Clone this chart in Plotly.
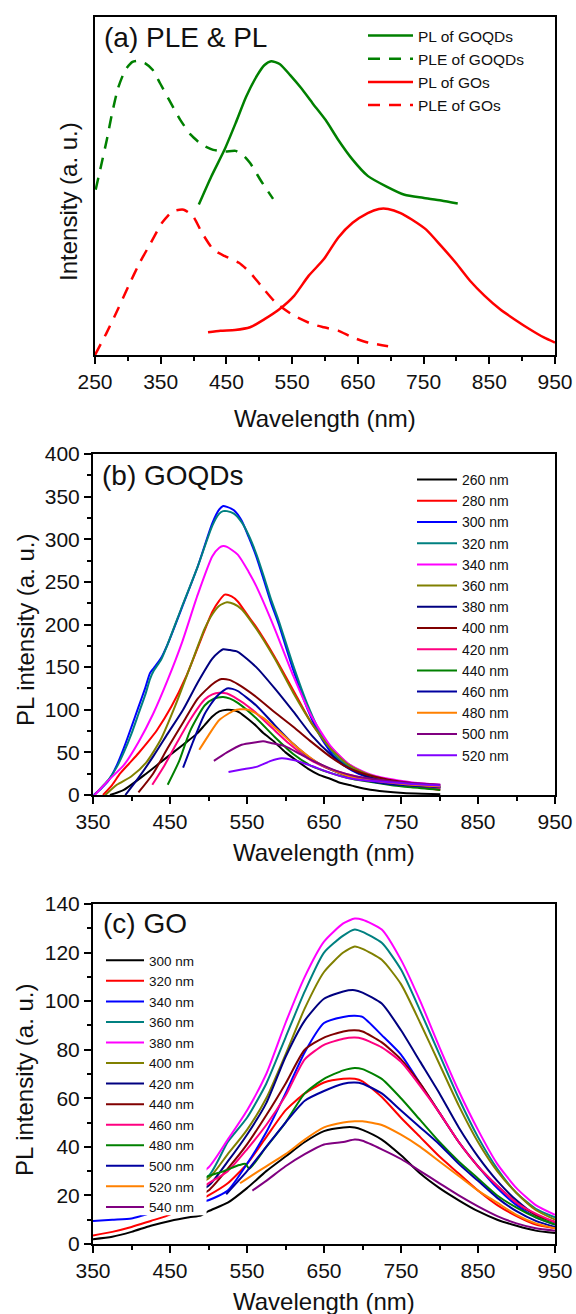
import plotly.graph_objects as go

W, H = 576, 1314

# ---------------- Panel (a) data (arbitrary units) ----------------
a_pl_goqd_x = [408, 427, 447, 464, 480, 497, 508, 518, 531, 547, 564, 581, 601, 620, 642, 665, 693, 721, 749, 777, 802]
a_pl_goqd_y = [0.445, 0.528, 0.607, 0.686, 0.764, 0.828, 0.858, 0.869, 0.861, 0.828, 0.789, 0.745, 0.695, 0.637, 0.578, 0.530, 0.499, 0.474, 0.465, 0.457, 0.448]

a_ple_goqd_x = [251, 259, 268, 276, 285, 296, 307, 315, 327, 338, 349, 363, 380, 396, 413, 430, 447, 464, 475, 486, 503, 521]
a_ple_goqd_y = [0.489, 0.558, 0.637, 0.715, 0.789, 0.843, 0.867, 0.870, 0.862, 0.843, 0.804, 0.754, 0.695, 0.651, 0.622, 0.607, 0.602, 0.604, 0.592, 0.568, 0.514, 0.462]

a_pl_go_x = [422, 441, 463, 486, 508, 531, 553, 575, 598, 620, 642, 665, 682, 696, 715, 732, 754, 777, 799, 821, 843, 866, 888, 911, 933, 950]
a_pl_go_y = [0.067, 0.072, 0.074, 0.082, 0.106, 0.136, 0.175, 0.234, 0.283, 0.347, 0.391, 0.420, 0.432, 0.432, 0.420, 0.401, 0.371, 0.322, 0.273, 0.219, 0.175, 0.136, 0.106, 0.077, 0.052, 0.037]

a_ple_go_x = [250, 268, 285, 301, 318, 335, 352, 368, 385, 399, 413, 430, 447, 469, 486, 503, 525, 553, 581, 598, 620, 642, 665, 696]
a_ple_go_y = [0.0, 0.067, 0.136, 0.204, 0.273, 0.332, 0.391, 0.425, 0.430, 0.411, 0.361, 0.312, 0.293, 0.273, 0.244, 0.204, 0.155, 0.116, 0.091, 0.082, 0.072, 0.052, 0.037, 0.026]

a_names = ["PL of GOQDs", "PLE of GOQDs", "PL of GOs", "PLE of GOs"]
a_ticks = [250, 350, 450, 550, 650, 750, 850, 950]

# ---------------- Panel (b) data: GOQDs ----------------
b_labels = ["260 nm", "280 nm", "300 nm", "320 nm", "340 nm", "360 nm", "380 nm",
            "400 nm", "420 nm", "440 nm", "460 nm", "480 nm", "500 nm", "520 nm"]
b_colors = ["#000000", "#FF0000", "#0000FF", "#008080", "#FF00FF", "#808000", "#000080",
            "#800000", "#FF0080", "#008000", "#0000A0", "#FF8000", "#800080", "#8000FF"]

b260_x = [372, 390, 419, 440, 467, 485, 495, 505, 514, 524, 533, 540, 553, 562, 572, 586, 600, 615, 629, 643, 658, 672, 686, 705, 729, 753, 777, 801]
b260_y = [0, 6, 25, 40, 59, 72, 82, 92, 98, 100, 99.5, 97, 88, 81, 72, 62, 50, 40, 31, 24, 19, 14, 11, 7, 4, 2.3, 1.5, 1]
b280_x = [363, 375, 385, 397, 409, 421, 433, 452, 471, 490, 505, 514, 521, 530, 538, 553, 562, 586, 610, 634, 658, 681, 705, 734, 763, 801]
b280_y = [0, 12, 25, 37, 49, 62, 76, 104, 139, 182, 215, 228, 235, 233, 227, 208, 197, 162, 123, 84, 57, 37, 25, 15.6, 10.6, 5.9]
b300_x = [351, 361, 371, 381, 390, 400, 409, 418, 424, 429, 438, 447, 466, 486, 505, 514, 519, 524, 533, 543, 552, 562, 572, 581, 591, 610, 629, 648, 667, 686, 705, 734, 763, 801]
b300_y = [0, 8, 18, 35, 55, 80, 103, 126, 143, 149, 160, 177, 221, 268, 319, 335, 339, 338, 334, 322, 303, 280, 252, 226, 201, 147, 100, 64.5, 41, 29, 21.5, 15.6, 11.7, 9]
b320_x = [352, 361, 371, 381, 390, 400, 409, 418, 424, 429, 438, 447, 466, 486, 505, 514, 519, 524, 533, 543, 552, 562, 572, 581, 591, 610, 629, 648, 667, 686, 705, 734, 763, 801]
b320_y = [0, 9, 19, 33, 50, 72, 95, 118, 136, 146, 158, 177, 222, 268, 316, 330, 333, 333, 330, 320, 305, 283, 256, 230, 205, 152, 105, 68, 44, 31, 22, 16, 12, 9]
b340_x = [352, 371, 390, 409, 428, 447, 466, 486, 505, 514, 519, 524, 538, 552, 562, 586, 610, 634, 658, 681, 705, 734, 763, 801]
b340_y = [0, 18, 35, 62, 95, 135, 180, 235, 280, 290, 292, 291, 282, 262, 245, 195, 140, 92, 58, 37, 26, 19, 15, 12]
b360_x = [366, 381, 400, 419, 438, 457, 476, 495, 505, 514, 524, 533, 543, 562, 586, 610, 634, 658, 681, 705, 734, 763, 801]
b360_y = [0, 12, 22, 38, 65, 105, 150, 195, 212, 222, 226, 224, 218, 195, 160, 120, 84, 55, 36, 25, 17, 13, 9]
b380_x = [392, 409, 428, 447, 467, 486, 505, 514, 519, 528, 538, 562, 586, 610, 634, 658, 681, 705, 734, 763, 801]
b380_y = [0, 20, 45, 72, 100, 132, 160, 168, 171, 170, 168, 150, 125, 98, 70, 48, 32, 22, 15, 11, 8]
b400_x = [409, 428, 447, 467, 486, 505, 517, 527, 538, 562, 586, 610, 634, 658, 681, 705, 734, 763, 801]
b400_y = [3, 25, 55, 85, 113, 130, 136, 135, 130, 115, 97, 80, 62, 45, 32, 24, 18, 14, 11]
b420_x = [427, 443, 457, 476, 495, 505, 514, 524, 533, 557, 581, 605, 629, 653, 681, 705, 734, 763, 801]
b420_y = [12, 35, 58, 88, 112, 118, 120, 119, 115, 100, 80, 60, 43, 32, 24, 19, 15, 12, 8]
b440_x = [447, 462, 476, 495, 507, 519, 528, 538, 562, 586, 610, 634, 658, 681, 705, 734, 763, 801]
b440_y = [12, 40, 75, 105, 113, 115, 113, 108, 90, 68, 48, 34, 26, 20, 16, 12, 9, 6]
b460_x = [467, 481, 495, 510, 524, 531, 538, 562, 586, 610, 634, 658, 681, 705, 734, 763, 801]
b460_y = [32, 65, 95, 115, 125, 124.5, 122, 105, 82, 60, 42, 30, 22, 17, 13, 11, 9]
b480_x = [488, 500, 514, 533, 541, 552, 572, 595, 619, 643, 667, 691, 720, 753, 801]
b480_y = [53, 70, 88, 99, 100.5, 100, 90, 72, 53, 37, 27, 20, 16, 13, 10]
b500_x = [507, 524, 543, 562, 571, 581, 600, 619, 643, 667, 691, 720, 753, 801]
b500_y = [40, 50, 59, 62, 63, 61, 57, 48, 37, 28, 22, 18, 15, 12]
b520_x = [526, 543, 562, 581, 595, 605, 615, 634, 658, 681, 705, 734, 763, 801]
b520_y = [27, 30, 33, 40, 43, 42, 40, 34, 26, 20, 17, 15, 13, 11]

b_xs = [b260_x, b280_x, b300_x, b320_x, b340_x, b360_x, b380_x, b400_x, b420_x, b440_x, b460_x, b480_x, b500_x, b520_x]
b_ys = [b260_y, b280_y, b300_y, b320_y, b340_y, b360_y, b380_y, b400_y, b420_y, b440_y, b460_y, b480_y, b500_y, b520_y]

# ---------------- Panel (c) data: GO ----------------
c_labels = ["300 nm", "320 nm", "340 nm", "360 nm", "380 nm", "400 nm", "420 nm",
            "440 nm", "460 nm", "480 nm", "500 nm", "520 nm", "540 nm"]
c_colors = ["#000000", "#FF0000", "#0000FF", "#008080", "#FF00FF", "#808000", "#000080",
            "#800000", "#FF0080", "#008000", "#0000A0", "#FF8000", "#800080"]

c300_x = [350, 375, 400, 425, 450, 475, 490, 500, 525, 550, 575, 600, 625, 650, 675, 690, 700, 725, 750, 775, 800, 825, 850, 875, 900, 925, 950]
c300_y = [2, 3, 5, 7.5, 9.5, 11, 11.7, 13.5, 17, 23, 30, 36, 42, 46.5, 48, 48, 47, 43, 36.5, 29, 23, 18, 13.5, 10, 7.5, 5.5, 4.5]
c320_x = [350, 375, 400, 425, 445, 460, 475, 500, 525, 550, 575, 600, 625, 650, 675, 690, 700, 725, 750, 775, 800, 825, 850, 875, 900, 925, 950]
c320_y = [3.5, 5, 7, 9.5, 11.5, 13.5, 16, 20, 25, 33, 44, 55, 62, 66.5, 68, 68, 67, 60.5, 52, 44, 36, 29, 22, 16, 11.5, 8, 6.5]
c340_x = [350, 375, 400, 410, 425, 450, 475, 500, 525, 550, 575, 600, 625, 650, 675, 690, 700, 725, 750, 775, 800, 825, 850, 875, 900, 925, 950]
c340_y = [9.5, 10, 10.5, 11.3, 12.8, 14, 16, 18, 22, 33, 46, 62, 79, 91, 93.5, 94, 93.5, 86, 78, 66, 54, 42, 32, 23, 16, 11, 8]
c360_x = [390, 450, 500, 525, 550, 575, 600, 625, 650, 675, 690, 700, 725, 750, 775, 800, 825, 850, 875, 900, 925, 950]
c360_y = [15, 22, 28, 42, 52, 66, 85, 104, 120, 127, 129.5, 128.5, 124, 113, 96, 78, 60, 44, 31, 21, 14.5, 11]
c380_x = [400, 460, 500, 525, 550, 575, 600, 625, 650, 675, 690, 700, 725, 750, 775, 800, 825, 850, 875, 900, 925, 950]
c380_y = [16, 24, 31.5, 43, 55, 70, 91, 110, 124.5, 132, 134, 133.5, 129.5, 117, 100, 81, 63, 47, 33, 23, 16, 12]
c400_x = [410, 450, 500, 525, 550, 575, 600, 625, 650, 675, 690, 700, 725, 750, 775, 800, 825, 850, 875, 900, 925, 950]
c400_y = [15, 20, 27, 37, 47, 60, 78, 97, 112, 120, 122.5, 121.5, 117, 107, 91, 74, 57, 42, 30, 21, 14, 10]
c420_x = [430, 460, 500, 525, 550, 575, 600, 625, 650, 675, 690, 700, 725, 750, 775, 800, 825, 850, 875, 900, 925, 950]
c420_y = [14, 18, 24, 34, 45, 58, 77, 92, 101, 104, 104.5, 103.5, 99, 88, 75, 62, 48, 36, 26, 18, 12, 9]
c440_x = [450, 475, 500, 525, 550, 575, 600, 625, 650, 675, 690, 700, 725, 750, 775, 800, 825, 850, 875, 900, 925, 950]
c440_y = [15, 18, 22, 31, 41, 53, 66, 80, 85, 87.5, 88, 87.5, 83, 76, 66, 54, 42, 32, 24, 17, 12, 9]
c460_x = [470, 485, 500, 525, 550, 575, 600, 625, 650, 675, 690, 700, 725, 750, 775, 800, 825, 850, 875, 900, 925, 950]
c460_y = [18, 22, 25, 30, 39, 49, 61, 76, 82, 84.5, 85, 84.5, 81, 75, 65, 54, 42, 32, 24, 17, 12.5, 9]
c480_x = [490, 500, 520, 540, 548, 553, 575, 600, 625, 650, 675, 690, 700, 725, 750, 775, 800, 825, 850, 875, 900, 925, 950]
c480_y = [26, 28, 30, 32.5, 33, 31, 40, 50, 62, 68, 71.5, 72.5, 72, 68, 60, 51, 42, 34, 27, 20, 15, 11, 8]
c500_x = [523, 550, 575, 600, 625, 650, 675, 690, 700, 725, 750, 775, 800, 825, 850, 875, 900, 925, 950]
c500_y = [20.5, 30, 40, 50, 59, 63, 66, 66.5, 66, 62, 55, 48, 41, 33, 26, 19, 13.5, 9.5, 7]
c520_x = [541, 560, 575, 600, 625, 650, 675, 690, 700, 725, 750, 775, 800, 825, 850, 875, 900, 925, 950]
c520_y = [25, 29, 32, 37, 43, 48, 50, 50.5, 50.5, 49, 45, 40, 34, 28, 22, 17, 12, 8.5, 6.5]
c540_x = [557, 575, 600, 625, 650, 675, 690, 700, 725, 750, 775, 800, 825, 850, 875, 900, 925, 950]
c540_y = [22, 26, 32, 37, 41, 42, 43, 42.5, 39, 35, 30, 25, 20, 15.5, 11.5, 8.5, 6.5, 5.5]

c_xs = [c300_x, c320_x, c340_x, c360_x, c380_x, c400_x, c420_x, c440_x, c460_x, c480_x, c500_x, c520_x, c540_x]
c_ys = [c300_y, c320_y, c340_y, c360_y, c380_y, c400_y, c420_y, c440_y, c460_y, c480_y, c500_y, c520_y, c540_y]

bc_ticks = [350, 450, 550, 650, 750, 850, 950]

FONT = "Liberation Sans, Arial, sans-serif"
TXT = "#111111"

fig = go.Figure()

# Panel (a)
a_series = [(a_pl_goqd_x, a_pl_goqd_y, "#008000", "solid"),
            (a_ple_goqd_x, a_ple_goqd_y, "#008000", "12px,9px"),
            (a_pl_go_x, a_pl_go_y, "#FF0000", "solid"),
            (a_ple_go_x, a_ple_go_y, "#FF0000", "12px,9px")]
for name, (xs, ys, col, dash) in zip(a_names, a_series):
    fig.add_trace(go.Scatter(x=xs, y=ys, mode="lines", name=name,
                             line=dict(color=col, width=2.5, dash=dash, shape="spline", smoothing=0.6),
                             xaxis="x", yaxis="y", legend="legend"))

for name, col, xs, ys in zip(b_labels, b_colors, b_xs, b_ys):
    fig.add_trace(go.Scatter(x=xs, y=ys, mode="lines", name=name,
                             line=dict(color=col, width=2, shape="spline", smoothing=0.6),
                             xaxis="x2", yaxis="y2", legend="legend2"))

for name, col, xs, ys in zip(c_labels, c_colors, c_xs, c_ys):
    fig.add_trace(go.Scatter(x=xs, y=ys, mode="lines", name=name,
                             line=dict(color=col, width=2, shape="spline", smoothing=0.6),
                             xaxis="x3", yaxis="y3", legend="legend3"))

def px_x(p):
    return p / W

def px_y(p):
    return 1 - p / H

axis_common = dict(showline=True, linecolor="black", linewidth=2, mirror=True,
                   ticks="outside", ticklen=7, tickwidth=1.5, tickcolor="black",
                   showgrid=False, zeroline=False, automargin=False,
                   tickfont=dict(family=FONT, size=21, color=TXT))

fig.update_layout(
    width=W, height=H, margin=dict(l=0, r=0, t=0, b=0, autoexpand=False),
    paper_bgcolor="white", plot_bgcolor="white",
    showlegend=True,
    xaxis=dict(domain=[px_x(95), px_x(555)], range=[250, 950], anchor="y",
               tickvals=a_ticks, minor=dict(ticks="outside", ticklen=4, tickwidth=1.5, dtick=50, tick0=250, tickcolor="black"),
               **axis_common),
    yaxis=dict(domain=[px_y(355), px_y(17)], range=[0, 1], anchor="x",
               showline=True, linecolor="black", linewidth=2, mirror=True,
               showticklabels=False, ticks="", showgrid=False, zeroline=False),
    xaxis2=dict(domain=[px_x(93), px_x(555)], range=[350, 950], anchor="y2",
                tickvals=bc_ticks, minor=dict(ticks="outside", ticklen=4, tickwidth=1.5, dtick=50, tick0=350, tickcolor="black"),
                **axis_common),
    yaxis2=dict(domain=[px_y(795), px_y(454)], range=[0, 400], anchor="x2", dtick=50,
                minor=dict(ticks="outside", ticklen=4, tickwidth=1.5, dtick=25, tickcolor="black"),
                **axis_common),
    xaxis3=dict(domain=[px_x(93), px_x(555)], range=[350, 950], anchor="y3",
                tickvals=bc_ticks, minor=dict(ticks="outside", ticklen=4, tickwidth=1.5, dtick=50, tick0=350, tickcolor="black"),
                **axis_common),
    yaxis3=dict(domain=[px_y(1244), px_y(904)], range=[0, 140], anchor="x3", dtick=20,
                minor=dict(ticks="outside", ticklen=4, tickwidth=1.5, dtick=10, tickcolor="black"),
                **axis_common),
    legend=dict(x=px_x(363), y=px_y(19), xanchor="left", yanchor="top", itemwidth=45,
                bgcolor="rgba(255,255,255,0)", borderwidth=0,
                font=dict(family=FONT, size=15.5, color=TXT), tracegroupgap=0),
    legend2=dict(x=px_x(412), y=px_y(464), xanchor="left", yanchor="top", itemwidth=40,
                 bgcolor="rgba(255,255,255,0)", borderwidth=0,
                 font=dict(family=FONT, size=14, color=TXT), tracegroupgap=0),
    legend3=dict(x=px_x(101), y=px_y(945), xanchor="left", yanchor="top", itemwidth=38,
                 bgcolor="rgba(255,255,255,0)", borderwidth=0,
                 font=dict(family=FONT, size=13.5, color=TXT), tracegroupgap=0),
)

# opaque white backdrop behind legend (c), as in the original figure
fig.add_shape(type="rect", xref="x3", yref="y3", x0=352, x1=497.5, y0=11.8, y1=121,
              fillcolor="white", line=dict(width=0), layer="above")

annots = [
    dict(text="(a) PLE & PL", x=px_x(102), y=px_y(37.5), xanchor="left", yanchor="middle", size=28, angle=0),
    dict(text="(b) GOQDs", x=px_x(100), y=px_y(475), xanchor="left", yanchor="middle", size=28, angle=0),
    dict(text="(c) GO", x=px_x(101), y=px_y(923), xanchor="left", yanchor="middle", size=28, angle=0),
    dict(text="Wavelength (nm)", x=px_x(325), y=px_y(418), xanchor="center", yanchor="middle", size=24, angle=0),
    dict(text="Wavelength (nm)", x=px_x(324), y=px_y(852), xanchor="center", yanchor="middle", size=24, angle=0),
    dict(text="Wavelength (nm)", x=px_x(324), y=px_y(1301), xanchor="center", yanchor="middle", size=24, angle=0),
    dict(text="Intensity (a. u.)", x=px_x(68), y=px_y(202), xanchor="center", yanchor="middle", size=24, angle=-90),
    dict(text="PL intensity (a. u.)", x=px_x(26), y=px_y(630), xanchor="center", yanchor="middle", size=24, angle=-90),
    dict(text="PL intensity (a. u.)", x=px_x(24), y=px_y(1080), xanchor="center", yanchor="middle", size=24, angle=-90),
]
for a in annots:
    fig.add_annotation(text=a["text"], xref="paper", yref="paper", x=a["x"], y=a["y"],
                       xanchor=a["xanchor"], yanchor=a["yanchor"], showarrow=False,
                       textangle=a["angle"], font=dict(family=FONT, size=a["size"], color=TXT))

fig.write_html("out.html", config={"displayModeBar": False},
               post_script="document.body.style.margin='0px';document.body.style.padding='0px';")
